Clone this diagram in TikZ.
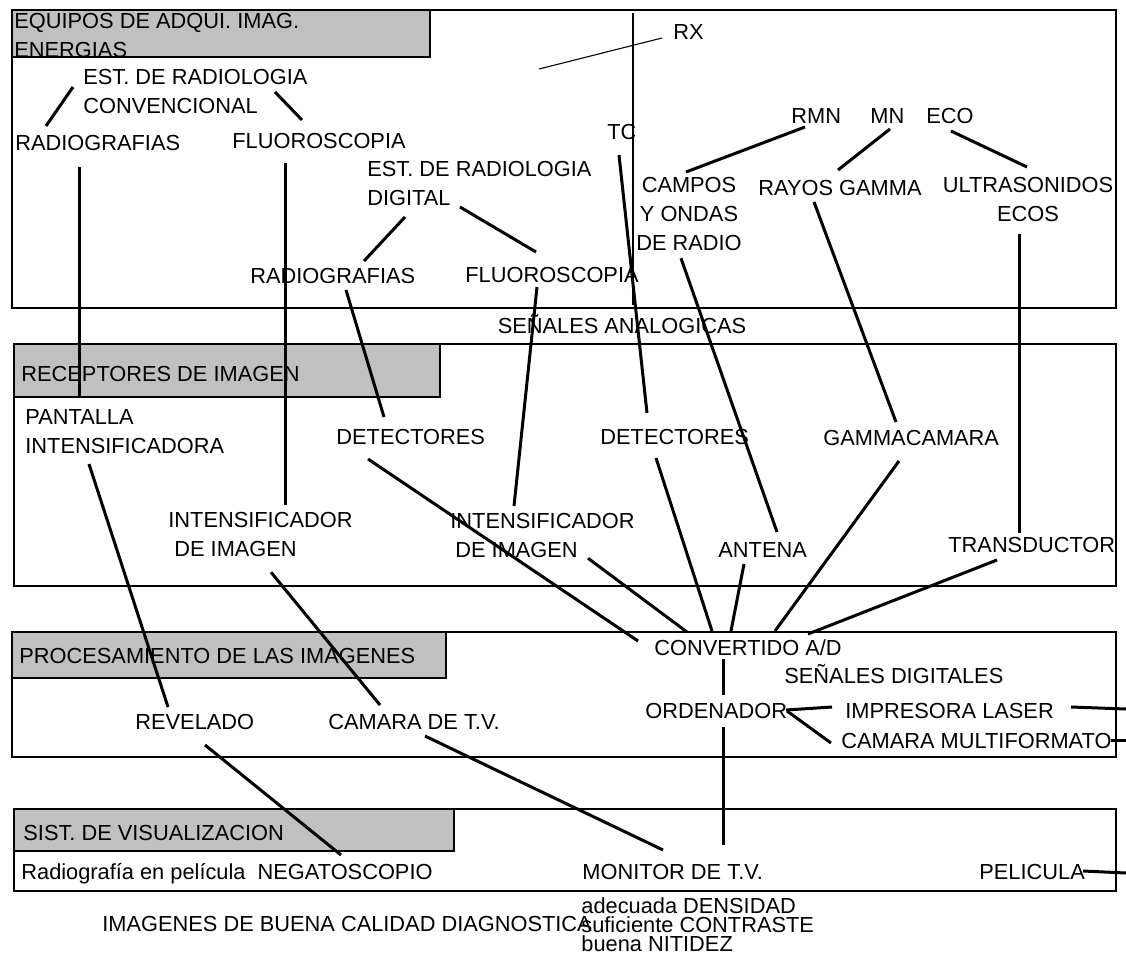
\documentclass[tikz,border=0pt]{standalone}
\usepackage{fontspec}
\setmainfont{Liberation Sans}
\definecolor{headgray}{HTML}{C0C0C0}

\begin{document}
\begin{tikzpicture}[x=0.5pt,y=0.5pt,
  lbl/.style={font=\fontsize{10.9}{14.5}\selectfont,inner sep=0pt},
  link/.style={line width=1.5pt},
  fine/.style={line width=0.55pt},
  frame/.style={draw=black,line width=0.65pt},
  header/.style={frame,fill=headgray}]

\useasboundingbox (0,0) rectangle (1126,-954);

\draw[frame] (12,-10) rectangle (1116,-308);
\draw[header] (12,-10) rectangle (430,-57);
\draw[frame] (14,-344) rectangle (1116,-586);
\draw[header] (14,-344) rectangle (440,-397);
\draw[frame] (12,-632) rectangle (1116,-757);
\draw[header] (12,-632) rectangle (446,-678);
\draw[frame] (14,-809) rectangle (1116,-891);
\draw[header] (14,-809) rectangle (454,-851);

\node[lbl,anchor=north west,align=left] (equipos) at (14,-13) {EQUIPOS DE ADQUI. IMAG.\\ENERGIAS};
\node[lbl,anchor=north west,align=left] (estconv) at (83,-69) {EST. DE RADIOLOGIA\\CONVENCIONAL};
\node[lbl,anchor=base west] (radconv) at (15,-150) {RADIOGRAFIAS};
\node[lbl,anchor=base west] (fluoconv) at (232,-148) {FLUOROSCOPIA};
\node[lbl,anchor=north west,align=left] (estdig) at (367,-161) {EST. DE RADIOLOGIA\\DIGITAL};
\node[lbl,anchor=base west] (raddig) at (250,-283) {RADIOGRAFIAS};
\node[lbl,anchor=base west] (fluodig) at (465,-282) {FLUOROSCOPIA};
\node[lbl,anchor=base west] (rx) at (673,-39) {RX};
\node[lbl,anchor=base west] (tc) at (607,-139) {TC};
\node[lbl,anchor=base west] (rmn) at (791,-123) {RMN};
\node[lbl,anchor=base west] (mn) at (870,-123) {MN};
\node[lbl,anchor=base west] (eco) at (926,-123) {ECO};
\node[lbl,anchor=north,align=center] (campos) at (689,-177) {CAMPOS\\Y ONDAS\\DE RADIO};
\node[lbl,anchor=base] (gamma) at (840,-195) {RAYOS GAMMA};
\node[lbl,anchor=north,align=center] (ultra) at (1028,-177) {ULTRASONIDOS\\ECOS};
\node[lbl,anchor=base] (analog) at (622,-333) {SEÑALES ANALOGICAS};

\node[lbl,anchor=base west] (receptores) at (21,-381) {RECEPTORES DE IMAGEN};
\node[lbl,anchor=north west,align=left] (pantalla) at (25,-409) {PANTALLA\\INTENSIFICADORA};
\node[lbl,anchor=base west] (detdig) at (336,-444) {DETECTORES};
\node[lbl,anchor=base west] (dettc) at (600,-444) {DETECTORES};
\node[lbl,anchor=base west] (gcam) at (823,-445) {GAMMACAMARA};
\node[lbl,anchor=north west,align=left] (intconv) at (168,-512) {INTENSIFICADOR\\\hspace*{3pt}DE IMAGEN};
\node[lbl,anchor=north west,align=left] (intdig) at (450,-513) {INTENSIFICADOR\\\hspace*{2.5pt}DE IMAGEN};
\node[lbl,anchor=base west] (antena) at (718,-557) {ANTENA};
\node[lbl,anchor=base west] (transd) at (948,-552) {TRANSDUCTOR};

\node[lbl,anchor=base west] (procesa) at (19,-663) {PROCESAMIENTO DE LAS IMAGENES};
\node[lbl,anchor=base west] (revelado) at (135,-729) {REVELADO};
\node[lbl,anchor=base west] (camtv) at (328,-729) {CAMARA DE T.V.};
\node[lbl,anchor=base west] (convad) at (654,-655) {CONVERTIDO A/D};
\node[lbl,anchor=base west] (digital) at (784,-683) {SEÑALES DIGITALES};
\node[lbl,anchor=base west] (ordena) at (645,-718) {ORDENADOR};
\node[lbl,anchor=base west] (laser) at (845,-718) {IMPRESORA LASER};
\node[lbl,anchor=base west] (multif) at (841,-748) {CAMARA MULTIFORMATO};

\node[lbl,anchor=base west] (visual) at (23,-840) {SIST. DE VISUALIZACION};
\node[lbl,anchor=base west] (negato) at (21,-879) {Radiografía en película\ \ NEGATOSCOPIO};
\node[lbl,anchor=base west] (monitor) at (582,-879) {MONITOR DE T.V.};
\node[lbl,anchor=base west] (pelicula) at (979,-879) {PELICULA};
\node[lbl,anchor=base west] (calidad) at (102,-931) {IMAGENES DE BUENA CALIDAD DIAGNOSTICA};
\node[lbl,font=\fontsize{10.9}{9.5}\selectfont,anchor=north west,align=left] (criterios) at (581,-897) {adecuada DENSIDAD\\suficiente CONTRASTE\\buena NITIDEZ};

\coordinate (rxtail) at (539,-69);
\coordinate (tctop) at (633,-13);
\coordinate (tcfoot) at (633,-305);
\coordinate (laserout) at (1126,-709);
\coordinate (multiout) at (1126,-740);
\coordinate (peliout) at (1126,-873);

\draw[fine] ([shift={(-11,1)}]rx.base west) -- (rxtail);
\draw[fine] (tctop) -- (tcfoot);
\draw[link] ([shift={(-10,-18)}]estconv.north west) -- ([shift={(31,24)}]radconv.base west);
\draw[link] ([shift={(192,-23)}]estconv.north west) -- ([shift={(70,28)}]fluoconv.base west);
\draw[link] ([shift={(38,-56)}]estdig.north west) -- ([shift={(114,22)}]raddig.base west);
\draw[link] ([shift={(93,-46)}]estdig.north west) -- ([shift={(71,30)}]fluodig.base west);
\draw[link] ([shift={(14,-4)}]rmn.base west) -- ([shift={(-3,5)}]campos.north);
\draw[link] ([shift={(20,-6)}]mn.base west) -- ([shift={(-2,25)}]gamma.base);
\draw[link] ([shift={(25,-8)}]eco.base west) -- ([shift={(-1,10)}]ultra.north);
\draw[link] ([shift={(12,-16)}]tc.base west) -- ([shift={(47,31)}]dettc.base west);
\draw[link] ([shift={(64,-17)}]radconv.base west) -- ([shift={(54,11)}]pantalla.north west);
\draw[link] ([shift={(53,-15)}]fluoconv.base west) -- ([shift={(117,7)}]intconv.north west);
\draw[link] ([shift={(96,-7)}]raddig.base west) -- ([shift={(48,27)}]detdig.base west);
\draw[link] ([shift={(72,-5)}]fluodig.base west) -- ([shift={(64,7)}]intdig.north west);
\draw[link] ([shift={(-8,-7)}]campos.south) -- ([shift={(59,25)}]antena.base west);
\draw[link] ([shift={(-26,-7)}]gamma.base) -- ([shift={(73,23)}]gcam.base west);
\draw[link] ([shift={(-9,-12)}]ultra.south) -- ([shift={(71,19)}]transd.base west);
\draw[link] ([shift={(64,-10)}]pantalla.south west) -- ([shift={(33,22)}]revelado.base west);
\draw[link] ([shift={(103,-15)}]intconv.south west) -- ([shift={(52,24)}]camtv.base west);
\draw[link] ([shift={(32,-15)}]detdig.base west) -- ([shift={(-16,14)}]convad.base west);
\draw[link] ([shift={(138,0)}]intdig.south west) -- ([shift={(33,23)}]convad.base west);
\draw[link] ([shift={(56,-14)}]dettc.base west) -- ([shift={(58,24)}]convad.base west);
\draw[link] ([shift={(26,-7)}]antena.base west) -- ([shift={(77,24)}]convad.base west);
\draw[link] ([shift={(76,-16)}]gcam.base west) -- ([shift={(121,24)}]convad.base west);
\draw[link] ([shift={(49,-8)}]transd.base west) -- ([shift={(154,21)}]convad.base west);
\draw[link] ([shift={(69,-4)}]convad.base west) -- ([shift={(78,23)}]ordena.base west);
\draw[link] ([shift={(78,-9)}]ordena.base west) -- ([shift={(141,34)}]monitor.base west);
\draw[link] ([shift={(-13,11)}]laser.base west) -- ([shift={(141,8)}]ordena.base west);
\draw[link] ([shift={(-10,5)}]multif.base west) -- ([shift={(142,7)}]ordena.base west);
\draw[link] ([shift={(226,11)}]laser.base west) -- (laserout);
\draw[link] ([shift={(270,8)}]multif.base west) -- (multiout);
\draw[link] ([shift={(104,8)}]pelicula.base west) -- (peliout);
\draw[link] ([shift={(70,-16)}]revelado.base west) -- ([shift={(320,24)}]negato.base west);
\draw[link] ([shift={(97,-7)}]camtv.base west) -- ([shift={(81,29)}]monitor.base west);
\end{tikzpicture}
\end{document}
